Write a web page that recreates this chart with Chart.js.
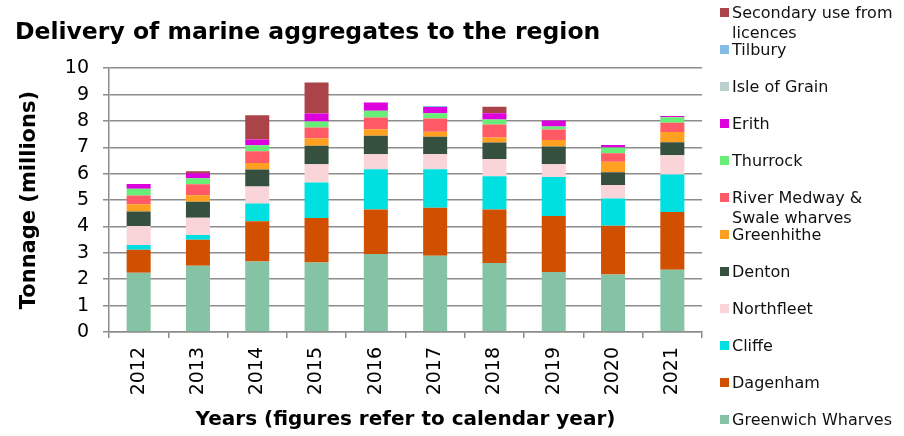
<!DOCTYPE html>
<html>
<head>
<meta charset="utf-8">
<script src="https://cdn.jsdelivr.net/npm/chart.js@4.4.7/dist/chart.umd.min.js"></script>
<style>
  html, body { margin: 0; padding: 0; background: #fff; }
  #wrap { position: relative; width: 904px; height: 436px; }
  #legend { position: absolute; left: 0; top: 0; font-family: Verdana, "DejaVu Sans", sans-serif; font-size: 16px; color: #111; }
  .item { position: absolute; left: 720px; width: 184px; line-height: 20px; }
  .item span.box { position: absolute; left: 0; top: 5px; width: 9px; height: 9px; }
  .item span.txt { display: block; margin-left: 12px; }
</style>
</head>
<body>
<div id="wrap">
  <canvas id="chart" width="904" height="436"></canvas>
  <div id="legend"></div>
</div>
<script>
const years = ["2012", "2013", "2014", "2015", "2016", "2017", "2018", "2019", "2020", "2021"]
const yTicks = [0, 1, 2, 3, 4, 5, 6, 7, 8, 9, 10]

// million tonnes
const greenwich  = [2.25, 2.51, 2.67, 2.63, 2.96, 2.89, 2.62, 2.27, 2.18, 2.36]
const dagenham   = [0.87, 0.99, 1.53, 1.69, 1.68, 1.82, 2.02, 2.13, 1.85, 2.19]
const cliffe     = [0.18, 0.18, 0.67, 1.35, 1.53, 1.46, 1.26, 1.48, 1.03, 1.42]
const northfleet = [0.72, 0.65, 0.65, 0.69, 0.57, 0.58, 0.66, 0.48, 0.51, 0.73]
const denton     = [0.55, 0.61, 0.64, 0.70, 0.70, 0.65, 0.62, 0.67, 0.49, 0.49]
const greenhithe = [0.27, 0.24, 0.25, 0.28, 0.25, 0.19, 0.19, 0.25, 0.39, 0.39]
const medway     = [0.33, 0.42, 0.44, 0.41, 0.44, 0.50, 0.50, 0.40, 0.33, 0.35]
const thurrock   = [0.26, 0.23, 0.23, 0.23, 0.26, 0.20, 0.19, 0.11, 0.21, 0.21]
const erith      = [0.18, 0.19, 0.22, 0.30, 0.31, 0.24, 0.23, 0.23, 0.10, 0.05]
const isleOfGrain = [0, 0, 0, 0, 0, 0, 0, 0, 0, 0]
const tilbury    = [0, 0, 0, 0, 0, 0.04, 0, 0, 0, 0]
const secondary  = [0, 0.07, 0.92, 1.18, 0, 0, 0.25, 0, 0, 0]

const seriesNames = [
  "Greenwich Wharves", "Dagenham", "Cliffe", "Northfleet", "Denton", "Greenhithe",
  "River Medway & Swale wharves", "Thurrock", "Erith", "Isle of Grain", "Tilbury",
  "Secondary use from licences"
]
const seriesData = [greenwich, dagenham, cliffe, northfleet, denton, greenhithe,
  medway, thurrock, erith, isleOfGrain, tilbury, secondary]
const seriesColors = ["#84c4a4", "#d05000", "#00e0e0", "#f9d4d8", "#36503f", "#ffa020",
  "#ff5a66", "#66ee77", "#dd00dd", "#bccfcf", "#84bde3", "#ab4449"]

const font = "Verdana, 'DejaVu Sans', sans-serif"
const gridColor = "#8c8c8c"

const datasets = seriesNames.map((name, i) => ({
  label: name,
  data: seriesData[i],
  backgroundColor: seriesColors[i],
  borderWidth: 0,
  barPercentage: 0.405,
  categoryPercentage: 1
}))

new Chart(document.getElementById("chart"), {
  type: "bar",
  data: { labels: years, datasets },
  options: {
    responsive: false,
    animation: false,
    layout: { padding: { left: 15, right: 202, top: 0, bottom: 0 } },
    plugins: {
      legend: { display: false },
      tooltip: { enabled: false },
      title: {
        display: true,
        text: "Delivery of marine aggregates to the region",
        align: "start",
        color: "#000",
        font: { family: font, size: 23.5, weight: "bold" },
        padding: { top: 19, bottom: 21 }
      }
    },
    scales: {
      x: {
        stacked: true,
        afterFit: (scale) => { scale.height = 104 },
        grid: { drawOnChartArea: false, drawTicks: true, tickLength: 6, color: gridColor, lineWidth: 1.5 },
        border: { color: gridColor, width: 1.5 },
        ticks: { color: "#000", font: { family: font, size: 19 }, minRotation: 90, maxRotation: 90, padding: 9 },
        title: {
          display: true,
          text: "Years (figures refer to calendar year)",
          color: "#000",
          font: { family: font, size: 20, weight: "bold" },
          padding: { top: 4, bottom: 4 }
        }
      },
      y: {
        stacked: true,
        min: 0,
        max: 10,
        afterFit: (scale) => { scale.width = 94 },
        afterBuildTicks: (scale) => { scale.ticks = yTicks.map(v => ({ value: v })) },
        grid: { color: gridColor, lineWidth: 1.5, tickLength: 6 },
        border: { color: gridColor, width: 1.5 },
        ticks: { color: "#000", font: { family: font, size: 19 }, padding: 14 },
        title: {
          display: true,
          text: "Tonnage (millions)",
          color: "#000",
          font: { family: font, size: 21, weight: "bold" },
          padding: { top: 2, bottom: 0 }
        }
      }
    }
  }
})

// legend on the right, top entry first (reverse of stacking order)
const legend = document.getElementById("legend")
seriesNames.slice().reverse().forEach((name, i) => {
  const idx = seriesNames.length - 1 - i
  const item = document.createElement("div")
  item.className = "item"
  item.style.top = (3 + 37 * i) + "px"
  const box = document.createElement("span")
  box.className = "box"
  box.style.background = seriesColors[idx]
  const txt = document.createElement("span")
  txt.className = "txt"
  txt.textContent = name
  item.appendChild(box)
  item.appendChild(txt)
  legend.appendChild(item)
})
</script>
</body>
</html>
